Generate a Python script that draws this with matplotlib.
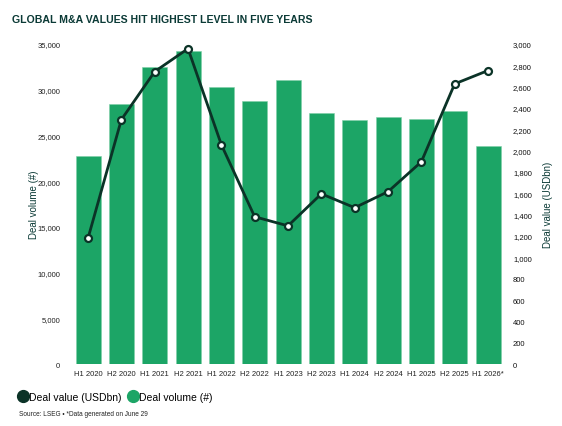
import matplotlib.pyplot as plt
from matplotlib.lines import Line2D

periods = ["H1 2020", "H2 2020", "H1 2021", "H2 2021", "H1 2022", "H2 2022", "H1 2023",
           "H2 2023", "H1 2024", "H2 2024", "H1 2025", "H2 2025", "H1 2026*"]
deal_volume = [22750, 28450, 32450, 34200, 30300, 28800, 31100,
               27450, 26700, 27050, 26800, 27700, 23850]
deal_value = [1180, 2290, 2740, 2955, 2055, 1380, 1295,
              1595, 1465, 1615, 1895, 2625, 2750]

green = "#1ca566"
dark = "#0b3327"
title_col = "#0b3a36"

plt.rcParams['font.family'] = ['Liberation Sans', 'DejaVu Sans']

fig = plt.figure(figsize=(5.62, 4.27), dpi=100)
ax = fig.add_axes([0.127, 0.145, 0.771, 0.750])
x = range(len(periods))
ax.bar(x, deal_volume, width=0.75, color=green, edgecolor="#7fd0a8", linewidth=0.4)
ax.set_ylim(0, 35000)
ax.set_xlim(-0.5, len(periods) - 0.5)
ax.set_yticks(range(0, 35001, 5000))
ax.set_yticklabels([f"{v:,}" for v in range(0, 35001, 5000)])
ax.set_xticks(list(x))
ax.set_xticklabels(periods)
ax.tick_params(length=0, labelsize=5.5, colors="#222222", pad=4)
ax.tick_params(axis="y", pad=8)
for s in ax.spines.values():
    s.set_visible(False)
ax.set_ylabel("Deal volume (#)", fontsize=7, color=title_col)
ax.yaxis.set_label_coords(-0.075, 0.5)

ax2 = ax.twinx()
ax2.plot(x, deal_value, color=dark, linewidth=2, marker="o", markersize=5,
         markerfacecolor="white", markeredgecolor=dark, markeredgewidth=1.6, zorder=3)
ax2.set_ylim(0, 3000)
ax2.set_yticks(range(0, 3001, 200))
ax2.set_yticklabels([f"{v:,}" for v in range(0, 3001, 200)])
ax2.tick_params(length=0, labelsize=5.5, colors="#111111", pad=6)
for s in ax2.spines.values():
    s.set_visible(False)
ax2.set_ylabel("Deal value (USDbn)", fontsize=7, color=title_col)
ax2.yaxis.set_label_coords(1.088, 0.5)

fig.text(0.021, 0.953, "GLOBAL M&A VALUES HIT HIGHEST LEVEL IN FIVE YEARS",
         fontsize=7.6, fontweight="bold", color=title_col, va="center")

handles = [Line2D([], [], marker="o", linestyle="none", markersize=8.5, color=dark),
           Line2D([], [], marker="o", linestyle="none", markersize=8.5, color=green)]
fig.legend(handles, ["Deal value (USDbn)", "Deal volume (#)"], loc="center left",
           bbox_to_anchor=(0.015, 0.069), ncol=2, frameon=False, fontsize=7.5,
           handletextpad=0.1, columnspacing=0.6, handlelength=1.0)

fig.text(0.033, 0.03, "Source: LSEG \u2022 *Data generated on June 29", fontsize=4.7,
         color="#222222", va="center")

fig.savefig("out.png", dpi=100)
